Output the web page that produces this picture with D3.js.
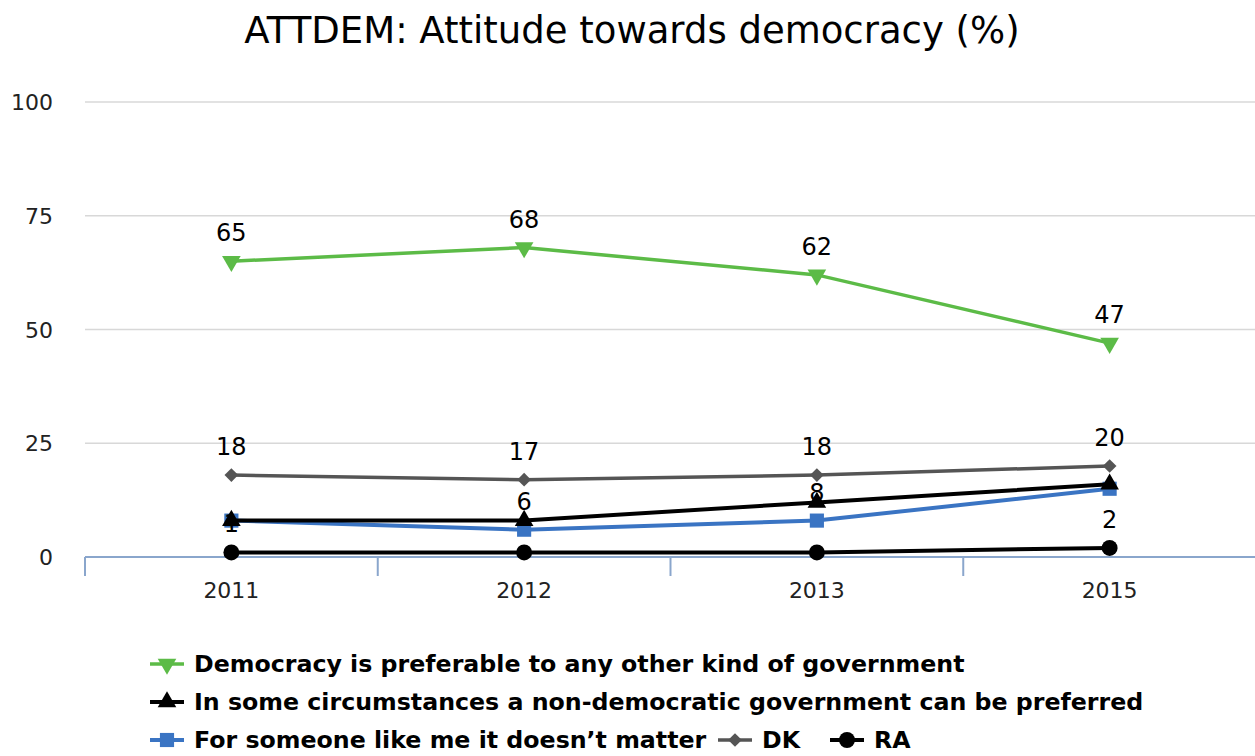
<!DOCTYPE html>
<html>
<head>
  <meta charset="utf-8">
  <title>ATTDEM: Attitude towards democracy</title>
  <script src="https://d3js.org/d3.v7.min.js"></script>
  <style>
    body { margin: 0; background: #fff; }
    text { font-family: "DejaVu Sans", sans-serif; }
  </style>
</head>
<body>
  <script>
    // chart data
    const years = ["2011", "2012", "2013", "2015"];
    const yTicks = [0, 25, 50, 75, 100];

    const democracy = [65, 68, 62, 47];
    const nonDemocratic = [8, 8, 12, 16];
    const noMatter = [8, 6, 8, 15];
    const dk = [18, 17, 18, 20];
    const ra = [1, 1, 1, 2];

    // which data labels are visible (the rest were hidden by overlap)
    const democracyLabels = [true, true, true, true];
    const nonDemocraticLabels = [false, false, false, false];
    const noMatterLabels = [false, true, true, false];
    const dkLabels = [true, true, true, true];
    const raLabels = [true, false, false, true];

    const series = [
      { name: "For someone like me it doesn\u2019t matter", values: noMatter, labels: noMatterLabels, color: "#3a74c3", width: 4, symbol: "square" },
      { name: "DK", values: dk, labels: dkLabels, color: "#555555", width: 3.5, symbol: "diamond" },
      { name: "In some circumstances a non-democratic government can be preferred", values: nonDemocratic, labels: nonDemocraticLabels, color: "#000000", width: 4, symbol: "up" },
      { name: "RA", values: ra, labels: raLabels, color: "#000000", width: 4, symbol: "circle" },
      { name: "Democracy is preferable to any other kind of government", values: democracy, labels: democracyLabels, color: "#5cbb47", width: 3.5, symbol: "down" }
    ];

    const W = 1255, H = 756;
    const svg = d3.select("body").append("svg")
      .attr("width", W)
      .attr("height", H);

    const x = d3.scaleBand().domain(years).range([85, 1256]);
    const y = d3.scaleLinear().domain([0, 100]).range([557, 102]);

    // title
    svg.append("text")
      .attr("x", 632)
      .attr("y", 43)
      .attr("text-anchor", "middle")
      .style("font-size", "37px")
      .text("ATTDEM: Attitude towards democracy (%)");

    // gridlines
    svg.append("g")
      .selectAll("line")
      .data(yTicks.filter(d => d > 0))
      .enter()
      .append("line")
      .attr("x1", 85)
      .attr("x2", W)
      .attr("y1", d => y(d))
      .attr("y2", d => y(d))
      .attr("stroke", "#d8d8d8")
      .attr("stroke-width", 1.5);

    // y tick labels
    svg.append("g")
      .selectAll("text")
      .data(yTicks)
      .enter()
      .append("text")
      .attr("x", 53)
      .attr("y", d => y(d) + 8)
      .attr("text-anchor", "end")
      .style("font-size", "22px")
      .style("fill", "#222")
      .text(d => d);

    // x axis
    const xAxis = svg.append("g");
    xAxis.append("line")
      .attr("x1", 85).attr("x2", W)
      .attr("y1", y(0)).attr("y2", y(0))
      .attr("stroke", "#8aa6cc")
      .attr("stroke-width", 2);
    xAxis.selectAll(".tick")
      .data(years)
      .enter()
      .append("line")
      .attr("x1", d => x(d))
      .attr("x2", d => x(d))
      .attr("y1", y(0))
      .attr("y2", y(0) + 19)
      .attr("stroke", "#8aa6cc")
      .attr("stroke-width", 2);
    xAxis.selectAll(".lbl")
      .data(years)
      .enter()
      .append("text")
      .attr("x", d => x(d) + x.bandwidth() / 2)
      .attr("y", 598)
      .attr("text-anchor", "middle")
      .style("font-size", "22px")
      .style("fill", "#222")
      .text(d => d);

    const cx = (d, i) => x(years[i]) + x.bandwidth() / 2;

    const symbolPath = {
      square: d3.symbol(d3.symbolSquare, 200)(),
      diamond: d3.symbol(d3.symbolDiamond2, 120)(),
      circle: d3.symbol(d3.symbolCircle, 200)(),
      up: d3.symbol(d3.symbolTriangle, 150)(),
      down: d3.symbol(d3.symbolTriangle, 150)()
    };

    function drawMarker(g, s, px, py) {
      g.append("path")
        .attr("d", symbolPath[s.symbol])
        .attr("transform", "translate(" + px + "," + py + ")" + (s.symbol === "down" ? " rotate(180)" : ""))
        .attr("fill", s.color);
    }

    const line = d3.line()
      .x(cx)
      .y(d => y(d));

    // lines and markers
    series.forEach(function(s) {
      const g = svg.append("g");
      g.append("path")
        .datum(s.values)
        .attr("d", line)
        .attr("fill", "none")
        .attr("stroke", s.color)
        .attr("stroke-width", s.width);
      s.values.forEach(function(v, i) {
        drawMarker(g, s, cx(v, i), y(v));
      });
    });

    // data labels
    series.forEach(function(s) {
      svg.append("g")
        .selectAll("text")
        .data(s.values.map((v, i) => ({ v: v, i: i, show: s.labels[i] })).filter(d => d.show))
        .enter()
        .append("text")
        .attr("x", d => cx(d.v, d.i))
        .attr("y", d => y(d.v) - 20)
        .attr("text-anchor", "middle")
        .style("font-size", "24px")
        .text(d => d.v);
    });

    // legend
    const legendRows = [
      [series[4]],
      [series[2]],
      [series[0], series[1], series[3]]
    ];
    const legendX = [[150], [150], [150, 718, 830]];
    legendRows.forEach(function(row, r) {
      const ly = 664 + r * 38;
      row.forEach(function(s, k) {
        const lx = legendX[r][k];
        const g = svg.append("g");
        g.append("line")
          .attr("x1", lx).attr("x2", lx + 34)
          .attr("y1", ly).attr("y2", ly)
          .attr("stroke", s.color)
          .attr("stroke-width", s.width);
        drawMarker(g, s, lx + 17, ly);
        g.append("text")
          .attr("x", lx + 44)
          .attr("y", ly + 8)
          .style("font-size", "23.7px")
          .style("font-weight", "bold")
          .text(s.name);
      });
    });
  </script>
</body>
</html>
